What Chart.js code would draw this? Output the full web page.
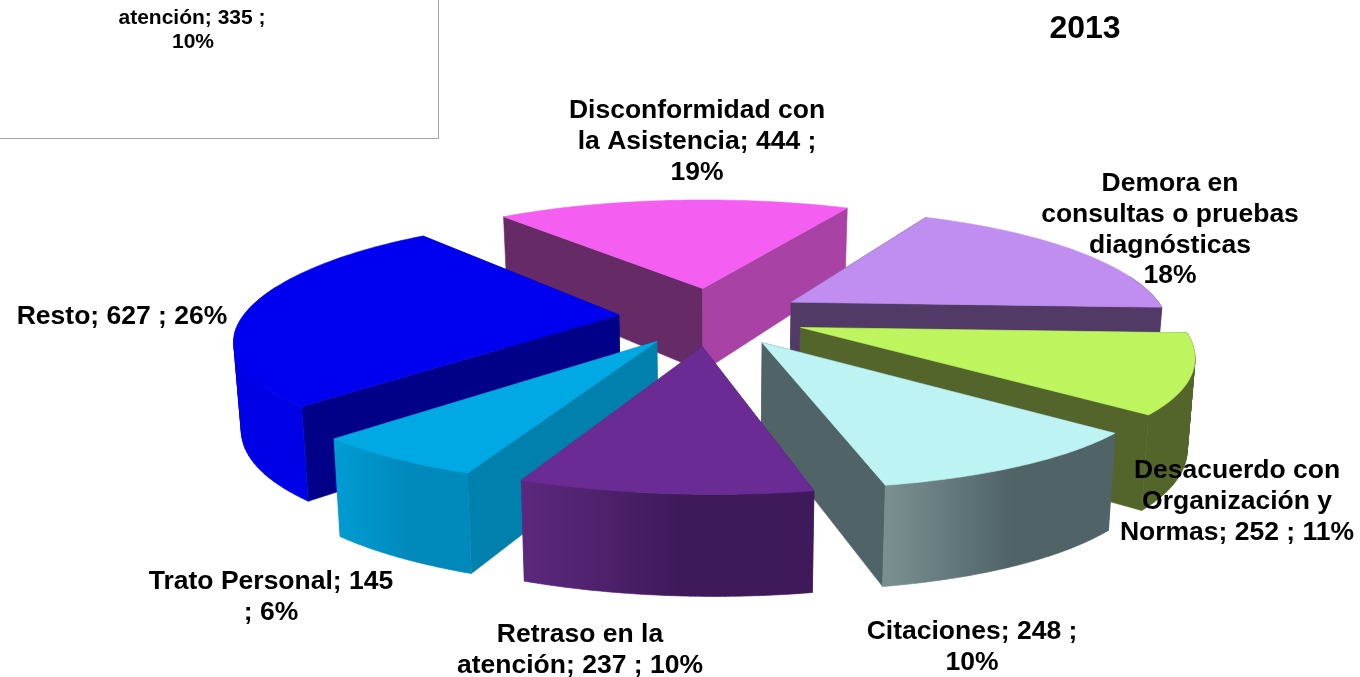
<!DOCTYPE html>
<html>
<head>
<meta charset="utf-8">
<title>2013</title>
<style>
body { margin: 0; background: #fff; }
canvas { display: block; }
</style>
<script src="https://cdn.jsdelivr.net/npm/chart.js@4"></script>
</head>
<body>
<canvas id="chart" width="1360" height="677"></canvas>
<script>
const categories = ['Disconformidad con la Asistencia', 'Demora en consultas o pruebas diagnósticas', 'Desacuerdo con Organización y Normas', 'Citaciones', 'Retraso en la atención', 'Trato Personal', 'Resto'];
const values = [444, 430, 252, 248, 237, 145, 627];
const explode = [70, 70, 70, 70, 70, 70, 70];

const topColors = ['#f45ff2', '#c08ef0', '#bef55f', '#bef3f3', '#6a2c94', '#00a8e4', '#0000f0'];
const startWall = ['#662a66', '#523a66', '#53652a', '#506468', '#431b5e', '#0080ac', '#000088'];
const endWall = ['#a842a4', '#523a66', '#53652a', '#506468', '#5c287e', '#0080ac', '#000088'];
const outerLeft = ['#a842a4', '#523a66', '#53652a', '#7a9090', '#5c287e', '#009cd4', '#0000e6'];
const outerRight = ['#a842a4', '#523a66', '#53652a', '#506468', '#3f1a5a', '#008abc', '#0000e6'];

const labelLines = [
    ['Disconformidad con', 'la Asistencia; 444 ;', '19%'],
    ['Demora en', 'consultas o pruebas', 'diagnósticas', '18%'],
    ['Desacuerdo con', 'Organización y', 'Normas; 252 ; 11%'],
    ['Citaciones; 248 ;', '10%'],
    ['Retraso en la', 'atención; 237 ; 10%'],
    ['Trato Personal; 145', '; 6%'],
    ['Resto; 627 ; 26%']
];
const labelAt = [[697, 111], [1170, 184], [1237, 471], [972, 632], [580, 635], [271, 582], [122, 317]];

// view of the tilted pie
const SCALE_X = 376, SCALE_Y = 118, PERSP_A = 0.19, PERSP_B = 0.03, PERSP_Y = 0.167, SHEAR = 10;
const DEPTH = 86, DEPTH_PERSP = 0.15, SHRINK = 0.016;

function project(cx, cy, u, v, low) {
    const x = SCALE_X * u * (1 + PERSP_A * v + PERSP_B * v * v) + (v > 0 ? SHEAR * v * v : 0);
    const y = SCALE_Y * v * (1 + PERSP_Y * v);
    if (!low) return [cx + x, cy + y];
    return [cx + x * (1 - SHRINK), cy + y + DEPTH * (1 + DEPTH_PERSP * v)];
}

function tracePoly(ctx, pts) {
    pts.forEach((p, i) => i ? ctx.lineTo(p[0], p[1]) : ctx.moveTo(p[0], p[1]));
    ctx.closePath();
}

function paint(ctx, color) {
    ctx.fillStyle = color;
    ctx.fill();
    ctx.strokeStyle = color;
    ctx.lineWidth = 0.6;
    ctx.stroke();
}

function fillPoly(ctx, pts, color) {
    ctx.beginPath();
    tracePoly(ctx, pts);
    paint(ctx, color);
}

function signedArea(pts) {
    let area = 0;
    pts.forEach((p, i) => {
        const q = pts[(i + 1) % pts.length];
        area += p[0] * q[1] - q[0] * p[1];
    });
    return area;
}

function drawSlice(ctx, arc, i) {
    const R = arc.outerRadius;
    const mid = (arc.startAngle + arc.endAngle) / 2;
    const ex = Math.cos(mid) * arc.options.offset / R;
    const ey = Math.sin(mid) * arc.options.offset / R;
    const rim = [];
    for (let k = 0; k <= 60; k++) {
        const a = arc.startAngle + (arc.endAngle - arc.startAngle) * k / 60;
        rim.push([ex + Math.cos(a), ey + Math.sin(a), Math.sin(a)]);
    }
    const hi = (p) => project(arc.x, arc.y, p[0], p[1], false);
    const lo = (p) => project(arc.x, arc.y, p[0], p[1], true);
    const tip = [ex, ey];
    const first = rim[0], last = rim[60];

    fillPoly(ctx, [hi(tip), hi(first), lo(first), lo(tip)], startWall[i]);
    fillPoly(ctx, [hi(tip), hi(last), lo(last), lo(tip)], endWall[i]);

    const front = rim.filter((p) => p[2] >= -0.25);
    if (front.length > 1) {
        const xs = front.map((p) => hi(p)[0]);
        const grad = ctx.createLinearGradient(Math.min(...xs), 0, Math.max(...xs), 0);
        grad.addColorStop(0, outerLeft[i]);
        grad.addColorStop(0.55, outerRight[i]);
        grad.addColorStop(1, outerRight[i]);
        // all rim steps in one path, same winding, so no seams and the turning rim stays filled
        ctx.beginPath();
        for (let k = 1; k < front.length; k++) {
            const quad = [hi(front[k - 1]), hi(front[k]), lo(front[k]), lo(front[k - 1])];
            tracePoly(ctx, signedArea(quad) < 0 ? quad.reverse() : quad);
        }
        paint(ctx, grad);
    }
    fillPoly(ctx, [hi(tip)].concat(rim.map(hi)), topColors[i]);
}

const pie3d = {
    id: 'pie3d',
    beforeDatasetDraw(chart, args) {
        const ctx = chart.ctx;
        const arcs = args.meta.data;
        const order = arcs.map((a, i) => i).sort((a, b) =>
            Math.sin((arcs[a].startAngle + arcs[a].endAngle) / 2) - Math.sin((arcs[b].startAngle + arcs[b].endAngle) / 2));
        ctx.save();
        order.forEach((i) => drawSlice(ctx, arcs[i], i));
        ctx.restore();
        return false;
    },
    afterDraw(chart) {
        const ctx = chart.ctx;
        ctx.save();
        ctx.textAlign = 'center';
        ctx.textBaseline = 'middle';
        ctx.fillStyle = '#000';
        ctx.font = 'bold 26.5px "Liberation Sans"';
        labelLines.forEach((lines, i) => {
            lines.forEach((line, n) => ctx.fillText(line, labelAt[i][0], labelAt[i][1] + n * 30.7));
        });
        ctx.font = 'bold 32px "Liberation Sans"';
        ctx.fillText('2013', 1085, 29);
        // box cut off by the corner of the picture
        ctx.fillStyle = '#fff';
        ctx.fillRect(-2, -2, 440, 141);
        ctx.strokeStyle = '#a6a6a6';
        ctx.lineWidth = 1;
        ctx.strokeRect(-2.5, -2.5, 441, 141);
        ctx.fillStyle = '#000';
        ctx.font = 'bold 21px "Liberation Sans"';
        ctx.fillText('atención; 335 ;', 192, 18);
        ctx.fillText('10%', 193, 42);
        ctx.restore();
    }
};

new Chart(document.getElementById('chart'), {
    type: 'pie',
    data: {
        labels: categories,
        datasets: [{
            data: values,
            backgroundColor: topColors,
            offset: explode,
            borderWidth: 0
        }]
    },
    options: {
        responsive: false,
        animation: false,
        rotation: -39.5,
        layout: { padding: { left: 64, bottom: 44 } },
        events: [],
        plugins: {
            legend: { display: false },
            tooltip: { enabled: false }
        }
    },
    plugins: [pie3d]
});
</script>
</body>
</html>
